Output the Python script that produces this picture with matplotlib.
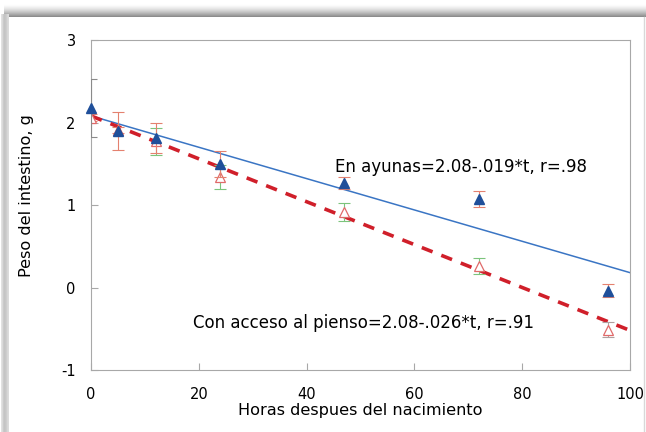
import numpy as np
import matplotlib.pyplot as plt
from matplotlib.colors import LinearSegmentedColormap

plt.rcParams['axes.unicode_minus'] = False

# Peso del intestino (g) frente a horas despues del nacimiento
horas = [0, 5, 12, 24, 47, 72, 96]
ayunas = [2.18, 1.90, 1.81, 1.50, 1.27, 1.07, -0.04]
ayunas_err = [0.35, 0.23, 0.18, 0.16, 0.07, 0.10, 0.08]
pienso = [2.06, 1.91, 1.77, 1.34, 0.92, 0.26, -0.51]
pienso_err = [0.04, 0.04, 0.16, 0.15, 0.11, 0.10, 0.09]

# rectas de regresion: intercepto, pendiente
fit_ayunas = (2.08, -0.019)
fit_pienso = (2.08, -0.026)
t_fit = [0, 100]

x_ticks = [0, 20, 40, 60, 80, 100]
y_ticks = [-1, 0, 1, 2, 3]

BLUE = '#1f4f9a'
RED = '#d01f2a'
SPINE = '#a8a8a8'

fig = plt.figure(figsize=(6.46, 4.32), dpi=100)

# marco gris del recuadro (banda superior y lateral izquierda)
bg = fig.add_axes([0, 0, 1, 1])
bg.set_xlim(0, 646)
bg.set_ylim(432, 0)
bg.axis('off')
grey = LinearSegmentedColormap.from_list('g', ['#ffffff', '#888888'])
top = np.linspace(0, 1, 50).reshape(-1, 1) ** 1.5
bg.imshow(top, cmap=grey, vmin=0, vmax=1, extent=[4, 646, 17, 4], aspect='auto')
left = np.array([[0.25, 0.5, 0.45, 0.3]])
bg.imshow(left, cmap=grey, vmin=0, vmax=1, extent=[1, 9, 432, 14], aspect='auto',
          interpolation='bilinear')
bg.plot([644, 644], [17, 432], color='#d8d8d8', lw=1)

ax = fig.add_axes([91 / 646, 1 - 370 / 432, (630 - 91) / 646, (370 - 40) / 432])
ax.set_xlim(0, 100)
ax.set_ylim(-1, 2.96)
for s in ax.spines.values():
    s.set_color(SPINE)
    s.set_linewidth(0.8)
ax.set_xticks(x_ticks)
ax.set_yticks(y_ticks)
ax.tick_params(direction='in', length=5, color=SPINE, labelsize=10.5)
ax.tick_params(axis='x', pad=12)
ax.tick_params(axis='y', pad=11)

t = np.array(t_fit)
ax.plot(t, fit_ayunas[0] + fit_ayunas[1] * t, color='#3a75c4', lw=1.1, zorder=2)
ax.plot(t, fit_pienso[0] + fit_pienso[1] * t, color=RED, lw=2.6, ls=(0, (3.2, 2.6)),
        zorder=2)

pienso_ecol = ['#e4816f', '#e4816f', '#7cc47c', '#7cc47c', '#7cc47c', '#7cc47c', '#b0a0a0']
for x, y, e, c in zip(horas, pienso, pienso_err, pienso_ecol):
    ax.errorbar(x, y, yerr=e, fmt='none', ecolor=c, elinewidth=0.8, capsize=4,
                capthick=0.8, zorder=3)
ax.plot(horas, pienso, '^', ms=6.5, mfc='white', mec='#e06a6a', mew=0.9, zorder=3)

ayunas_ecol = ['#8a8a8a'] + ['#e4816f'] * (len(horas) - 1)
for x, y, e, c in zip(horas, ayunas, ayunas_err, ayunas_ecol):
    ax.errorbar(x, y, yerr=e, fmt='none', ecolor=c, elinewidth=0.8, capsize=4,
                capthick=0.8, zorder=3)
ax.plot(horas, ayunas, '^', ms=7, color=BLUE, clip_on=False, zorder=4)

ax.text(45.3, 1.46, 'En ayunas=2.08-.019*t, r=.98', fontsize=12, va='center', ha='left')
ax.text(18.9, -0.43, 'Con acceso al pienso=2.08-.026*t, r=.91', fontsize=12,
        va='center', ha='left')

ax.set_xlabel('Horas despues del nacimiento', fontsize=11.6, labelpad=1)
ax.set_ylabel('Peso del intestino, g', fontsize=11.6)
ax.yaxis.set_label_coords(-0.105, 0.53)

fig.savefig('out.png', dpi=100)
